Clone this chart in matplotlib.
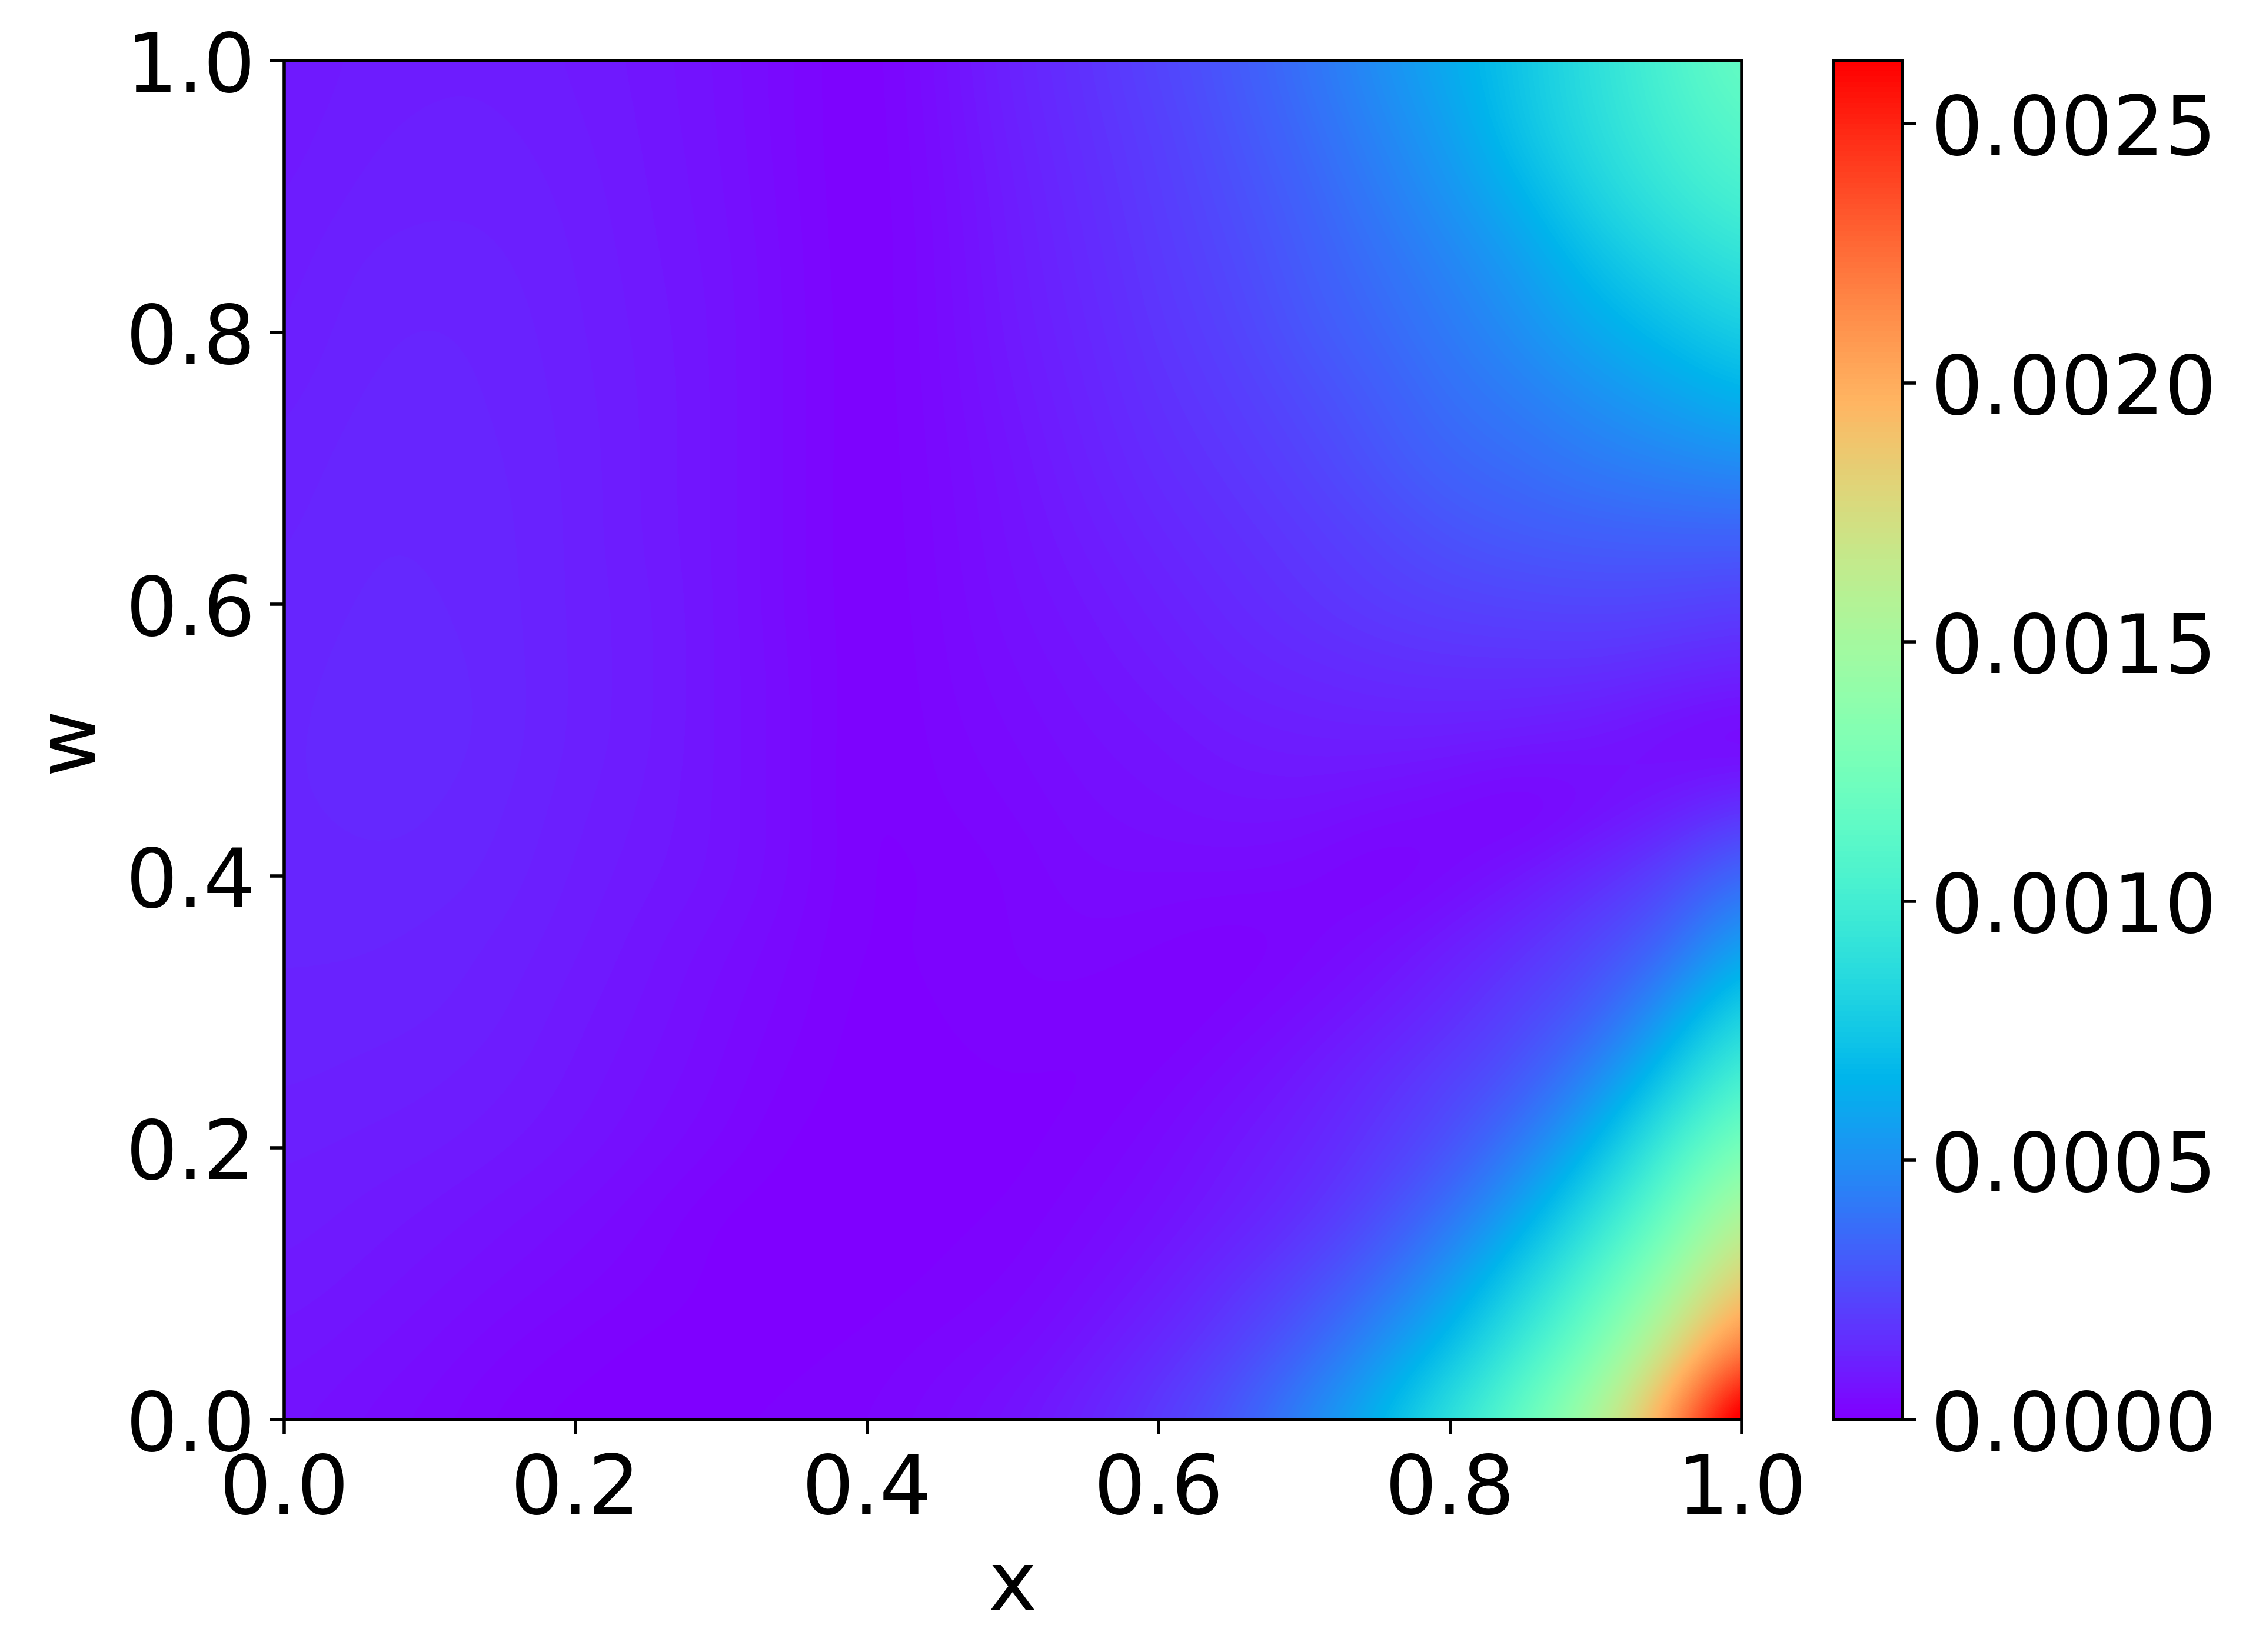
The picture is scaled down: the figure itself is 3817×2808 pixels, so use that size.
import numpy as np
import matplotlib
matplotlib.use('Agg')
import matplotlib.pyplot as plt

x_ticks = [0.0, 0.2, 0.4, 0.6, 0.8, 1.0]
w_ticks = [0.0, 0.2, 0.4, 0.6, 0.8, 1.0]
cbar_ticks = [0.0, 0.0005, 0.0010, 0.0015, 0.0020, 0.0025]
vmax = 0.002622

# error, in units of 1e-4, rows w=0..1 in steps of 0.05
# left part: x=0..0.45
err_left = np.array([
    [0.65, 0.50, 0.35, 0.15, 0.03, 0.05, 0.10, 0.12, 0.20, 0.40],
    [0.78, 0.65, 0.50, 0.30, 0.15, 0.03, 0.05, 0.08, 0.12, 0.25],
    [0.90, 0.80, 0.65, 0.50, 0.35, 0.20, 0.05, 0.03, 0.05, 0.10],
    [0.98, 0.90, 0.80, 0.65, 0.50, 0.30, 0.05, 0.02, 0.05, 0.08],
    [1.05, 1.00, 0.95, 0.85, 0.70, 0.50, 0.30, 0.05, 0.05, 0.05],
    [1.15, 1.10, 1.05, 0.95, 0.80, 0.60, 0.40, 0.15, 0.03, 0.05],
    [1.20, 1.18, 1.15, 1.05, 0.85, 0.70, 0.45, 0.25, 0.02, 0.10],
    [1.25, 1.25, 1.20, 1.10, 0.95, 0.75, 0.55, 0.30, 0.05, 0.15],
    [1.25, 1.30, 1.30, 1.20, 1.00, 0.85, 0.70, 0.40, 0.05, 0.10],
    [1.30, 1.38, 1.35, 1.25, 1.05, 0.90, 0.70, 0.40, 0.03, 0.20],
    [1.30, 1.40, 1.40, 1.30, 1.10, 0.95, 0.70, 0.40, 0.03, 0.25],
    [1.28, 1.38, 1.38, 1.30, 1.10, 0.95, 0.70, 0.40, 0.04, 0.28],
    [1.25, 1.35, 1.35, 1.28, 1.10, 0.95, 0.70, 0.35, 0.05, 0.30],
    [1.20, 1.33, 1.33, 1.27, 1.10, 0.90, 0.70, 0.35, 0.05, 0.33],
    [1.15, 1.30, 1.30, 1.25, 1.10, 0.90, 0.70, 0.35, 0.05, 0.35],
    [1.08, 1.25, 1.28, 1.22, 1.08, 0.90, 0.70, 0.35, 0.05, 0.38],
    [1.00, 1.20, 1.25, 1.20, 1.05, 0.88, 0.70, 0.35, 0.05, 0.40],
    [0.95, 1.15, 1.20, 1.15, 1.03, 0.85, 0.68, 0.35, 0.03, 0.42],
    [0.90, 1.05, 1.10, 1.10, 1.00, 0.82, 0.65, 0.32, 0.03, 0.45],
    [0.85, 1.00, 1.05, 1.05, 0.95, 0.80, 0.62, 0.30, 0.03, 0.50],
    [0.80, 0.95, 1.00, 1.00, 0.90, 0.78, 0.60, 0.30, 0.03, 0.55],
])
# right part: x=0.5..1
err_right = np.array([
    [0.70, 1.20, 2.00, 3.00, 4.70, 6.60, 9.20, 11.9, 15.6, 20.8, 29.0],
    [0.40, 0.80, 1.40, 2.20, 3.30, 5.10, 7.10, 9.90, 12.9, 17.3, 22.5],
    [0.20, 0.50, 0.90, 1.60, 2.40, 3.60, 5.50, 8.00, 11.0, 14.4, 18.9],
    [0.10, 0.30, 0.60, 1.00, 1.60, 2.50, 3.90, 6.00, 8.90, 12.0, 16.0],
    [0.05, 0.15, 0.40, 0.80, 1.20, 1.90, 2.70, 4.30, 6.70, 10.0, 13.1],
    [0.10, 0.05, 0.20, 0.50, 0.90, 1.50, 2.20, 2.90, 4.80, 7.50, 10.7],
    [0.20, 0.15, 0.02, 0.20, 0.50, 0.90, 1.50, 2.30, 3.10, 5.40, 8.30],
    [0.20, 0.30, 0.20, 0.05, 0.20, 0.50, 1.00, 1.60, 2.40, 3.30, 5.90],
    [0.20, 0.40, 0.40, 0.40, 0.30, 0.05, 0.30, 0.80, 1.50, 2.30, 3.70],
    [0.30, 0.50, 0.60, 0.70, 0.70, 0.50, 0.30, 0.00, 0.40, 0.90, 1.70],
    [0.40, 0.60, 0.70, 0.90, 1.00, 1.05, 1.00, 0.90, 0.70, 0.30, 0.00],
    [0.50, 0.70, 0.90, 1.20, 1.35, 1.50, 1.60, 1.60, 1.60, 1.40, 1.20],
    [0.60, 0.80, 1.10, 1.40, 1.70, 2.00, 2.20, 2.30, 2.40, 2.30, 2.10],
    [0.65, 0.95, 1.30, 1.60, 1.90, 2.30, 2.80, 3.10, 3.20, 3.30, 3.30],
    [0.70, 1.10, 1.50, 1.80, 2.20, 2.80, 3.40, 3.70, 4.20, 4.50, 4.80],
    [0.80, 1.20, 1.65, 2.00, 2.50, 3.10, 3.80, 4.30, 5.00, 5.70, 6.50],
    [0.90, 1.30, 1.80, 2.20, 2.90, 3.50, 4.20, 5.00, 6.10, 7.00, 7.90],
    [0.95, 1.40, 1.90, 2.40, 3.10, 3.80, 4.60, 5.60, 7.10, 8.20, 9.20],
    [1.00, 1.50, 2.00, 2.60, 3.30, 4.20, 5.20, 6.50, 8.20, 9.40, 10.4],
    [1.10, 1.60, 2.10, 2.80, 3.60, 4.60, 5.70, 7.40, 8.80, 10.1, 11.2],
    [1.20, 1.70, 2.30, 3.00, 3.90, 5.00, 6.20, 7.50, 9.00, 10.5, 12.0],
])
err = np.hstack([err_left, err_right])

plt.rcParams['font.size'] = 20

fig = plt.figure(figsize=(3817 / 500, 2808 / 500), dpi=500)
ax = fig.add_axes([483 / 3817, 1 - 2413 / 2808, (2960 - 483) / 3817, (2413 - 103) / 2808])
cax = fig.add_axes([3116 / 3817, 1 - 2413 / 2808, (3233 - 3116) / 3817, (2413 - 103) / 2808])

im = ax.imshow(err * 1e-4, origin='lower', extent=[-0.025, 1.025, -0.025, 1.025], cmap='rainbow',
               vmin=0, vmax=vmax, aspect='auto', interpolation='bicubic')
ax.set_xlim(0, 1)
ax.set_ylim(0, 1)
ax.set_xticks(x_ticks)
ax.set_yticks(w_ticks)
ax.tick_params(axis='x', pad=4.3)
ax.set_xlabel('x')
ax.set_ylabel('w')

cb = fig.colorbar(im, cax=cax)
cb.set_ticks(cbar_ticks)
cb.set_ticklabels([f'{t:.4f}' for t in cbar_ticks])

fig.savefig('out.png', dpi=500)
